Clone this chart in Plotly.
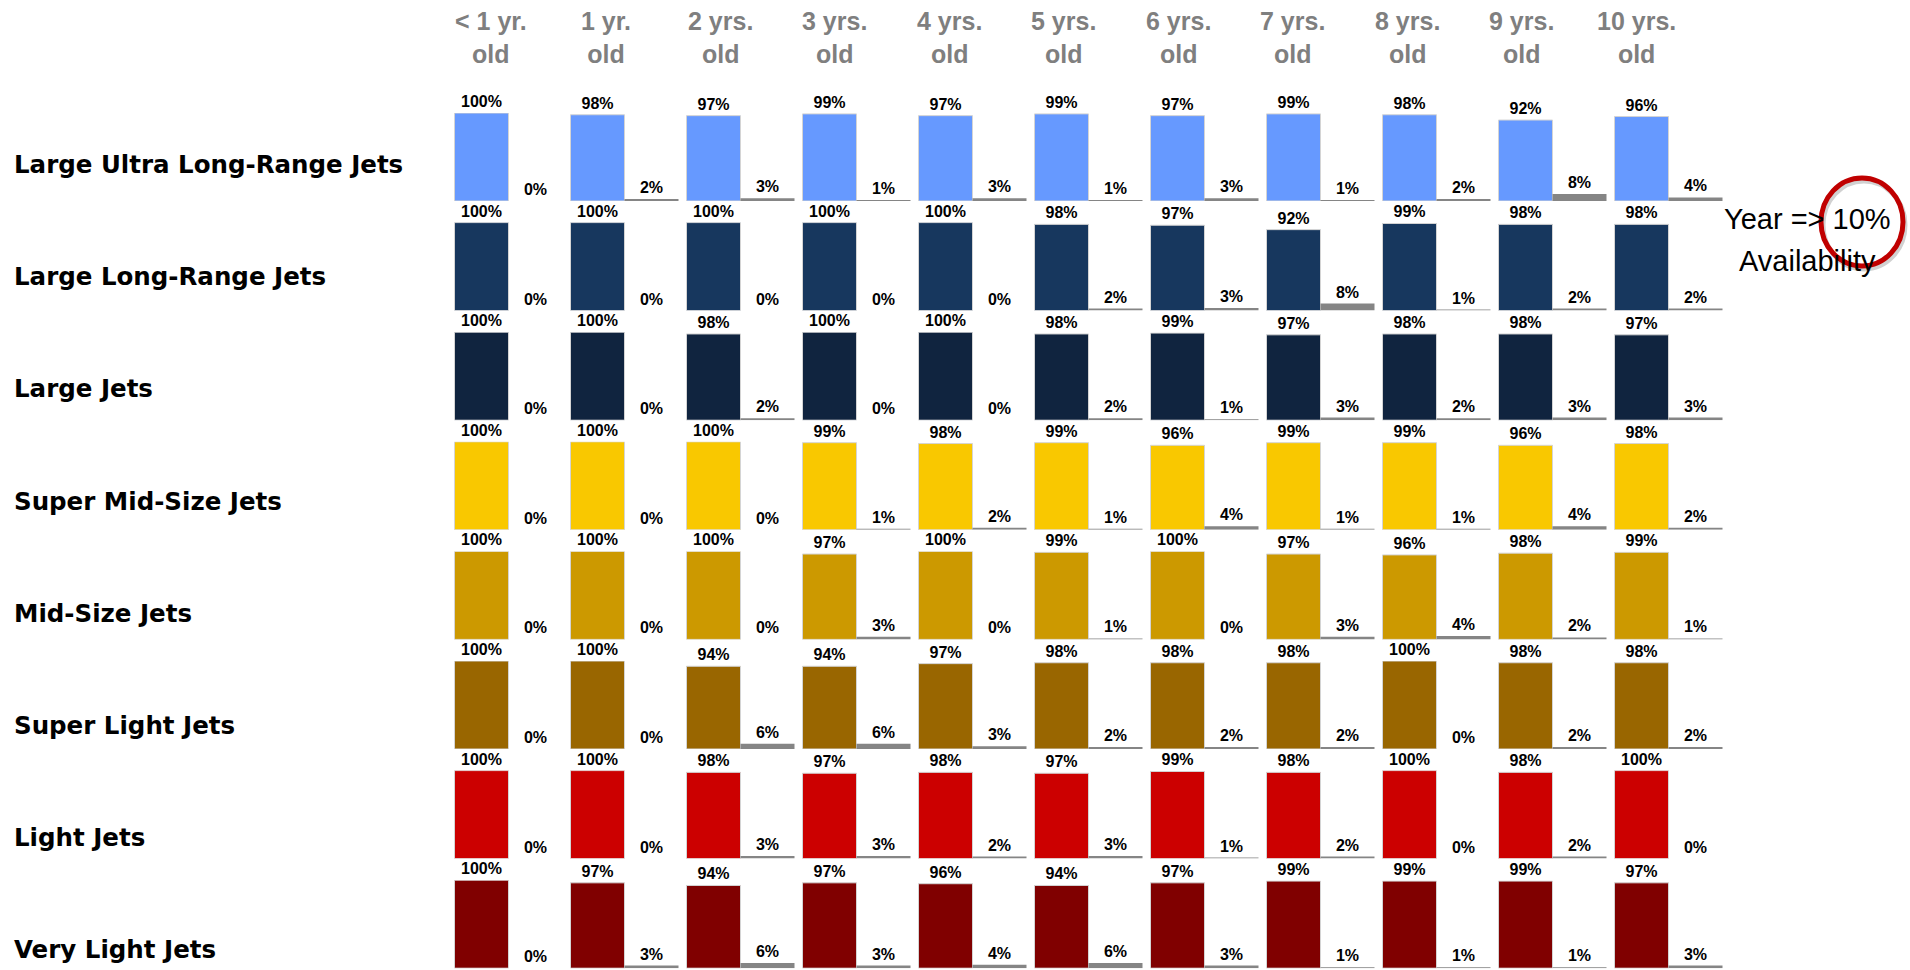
import plotly.graph_objects as go

# ---------------- data ----------------
ages = ["< 1 yr. old", "1 yr. old", "2 yrs. old", "3 yrs. old", "4 yrs. old",
        "5 yrs. old", "6 yrs. old", "7 yrs. old", "8 yrs. old", "9 yrs. old", "10 yrs. old"]
age_headers = ["&lt; 1 yr.<br>old", "1 yr.<br>old", "2 yrs.<br>old", "3 yrs.<br>old",
               "4 yrs.<br>old", "5 yrs.<br>old", "6 yrs.<br>old", "7 yrs.<br>old",
               "8 yrs.<br>old", "9 yrs.<br>old", "10 yrs.<br>old"]

jet_classes = ["Large Ultra Long-Range Jets", "Large Long-Range Jets", "Large Jets",
               "Super Mid-Size Jets", "Mid-Size Jets", "Super Light Jets",
               "Light Jets", "Very Light Jets"]

# share of fleet NOT available (colored bars)
ulr_main = [100, 98, 97, 99, 97, 99, 97, 99, 98, 92, 96]
ulr_avail = [0, 2, 3, 1, 3, 1, 3, 1, 2, 8, 4]
lr_main = [100, 100, 100, 100, 100, 98, 97, 92, 99, 98, 98]
lr_avail = [0, 0, 0, 0, 0, 2, 3, 8, 1, 2, 2]
large_main = [100, 100, 98, 100, 100, 98, 99, 97, 98, 98, 97]
large_avail = [0, 0, 2, 0, 0, 2, 1, 3, 2, 3, 3]
smid_main = [100, 100, 100, 99, 98, 99, 96, 99, 99, 96, 98]
smid_avail = [0, 0, 0, 1, 2, 1, 4, 1, 1, 4, 2]
mid_main = [100, 100, 100, 97, 100, 99, 100, 97, 96, 98, 99]
mid_avail = [0, 0, 0, 3, 0, 1, 0, 3, 4, 2, 1]
slight_main = [100, 100, 94, 94, 97, 98, 98, 98, 100, 98, 98]
slight_avail = [0, 0, 6, 6, 3, 2, 2, 2, 0, 2, 2]
light_main = [100, 100, 98, 97, 98, 97, 99, 98, 100, 98, 100]
light_avail = [0, 0, 3, 3, 2, 3, 1, 2, 0, 2, 0]
vlight_main = [100, 97, 94, 97, 96, 94, 97, 99, 99, 99, 97]
vlight_avail = [0, 3, 6, 3, 4, 6, 3, 1, 1, 1, 3]

main_series = [ulr_main, lr_main, large_main, smid_main, mid_main, slight_main, light_main, vlight_main]
avail_series = [ulr_avail, lr_avail, large_avail, smid_avail, mid_avail, slight_avail, light_avail, vlight_avail]

row_colors = ["#6699FF", "#17375E", "#10243F", "#F9C800", "#CC9900", "#996600", "#CC0000", "#800000"]
gray = "#858585"

# ---------------- layout helpers ----------------
W, H = 1910, 970


def px_x(p):
    return p / W


def px_y(p):
    return 1 - p / H


x_domain = [450.5 / W, 1726.5 / W]
first_bottom, row_step, bar_px = 201, 109.6, 88

fig = go.Figure()
layout_axes = {}
lab_font = dict(family="Liberation Sans, Arial, sans-serif", size=16, color="black", weight="bold")

for k, (name, main, avail, col) in enumerate(zip(jet_classes, main_series, avail_series, row_colors)):
    ax = "" if k == 0 else str(k + 1)
    fig.add_trace(go.Bar(
        x=ages, y=main, marker=dict(color=col, line=dict(color="#d4d4d4", width=1)),
        text=[f"{v}%" for v in main], textposition="outside", textfont=lab_font,
        cliponaxis=False, constraintext="none", showlegend=False, hoverinfo="skip",
        xaxis="x" + ax, yaxis="y" + ax))
    fig.add_trace(go.Bar(
        x=ages, y=avail, marker=dict(color=gray, line=dict(width=0)),
        text=[f"{v}%" for v in avail], textposition="outside", textfont=lab_font,
        cliponaxis=False, constraintext="none", showlegend=False, hoverinfo="skip",
        xaxis="x" + ax, yaxis="y" + ax))
    bottom = first_bottom + k * row_step
    top = bottom - bar_px
    layout_axes["xaxis" + ax] = dict(domain=x_domain, range=[-0.5, 10.5], visible=False,
                                     anchor="y" + ax, fixedrange=True)
    layout_axes["yaxis" + ax] = dict(domain=[px_y(bottom), px_y(top)], range=[0, 100],
                                     visible=False, anchor="x" + ax, fixedrange=True)

fig.update_layout(**layout_axes)

annotations = []
# row labels
for k, name in enumerate(jet_classes):
    annotations.append(dict(
        text=name, xref="paper", yref="paper", x=px_x(12), y=px_y(164.5 + 112.2 * k),
        xanchor="left", yanchor="middle", showarrow=False,
        font=dict(family="DejaVu Sans, Verdana, sans-serif", size=24.5, color="black", weight="bold")))
# column headers
for i, hdr in enumerate(age_headers):
    annotations.append(dict(
        text=hdr, xref="paper", yref="paper", x=px_x(491 + 114.5 * i), y=px_y(37.5),
        xanchor="center", yanchor="middle", showarrow=False,
        font=dict(family="Liberation Sans, Arial, sans-serif", size=25, color="#7F7F7F", weight="bold")))
# callout
annotations.append(dict(
    text="Year => 10%", xref="paper", yref="paper", x=px_x(1807), y=px_y(219),
    xanchor="center", yanchor="middle", showarrow=False,
    font=dict(family="Liberation Sans, Arial, sans-serif", size=29, color="black")))
annotations.append(dict(
    text="Availability", xref="paper", yref="paper", x=px_x(1807), y=px_y(261),
    xanchor="center", yanchor="middle", showarrow=False,
    font=dict(family="Liberation Sans, Arial, sans-serif", size=29, color="black")))

shapes = [
    dict(type="circle", xref="paper", yref="paper", x0=px_x(1823), x1=px_x(1905),
         y0=px_y(269), y1=px_y(181), line=dict(color="rgba(0,0,0,0.18)", width=5), layer="above"),
    dict(type="circle", xref="paper", yref="paper", x0=px_x(1821), x1=px_x(1903),
         y0=px_y(266), y1=px_y(178), line=dict(color="#C00000", width=5), layer="above"),
]

fig.update_layout(
    width=W, height=H, margin=dict(l=0, r=0, t=0, b=0),
    paper_bgcolor="white", plot_bgcolor="white",
    barmode="group", bargap=8 / 116, bargroupgap=0,
    annotations=annotations, shapes=shapes,
)

fig.write_html("out.html", config={"displayModeBar": False},
               post_script="document.body.style.margin='0';document.body.style.overflow='hidden';")
